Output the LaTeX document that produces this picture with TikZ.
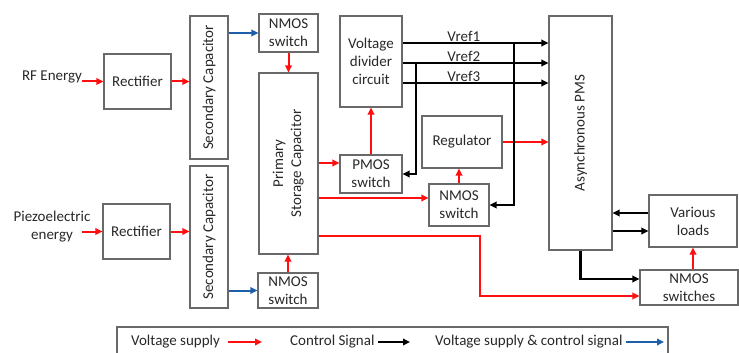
\documentclass[tikz,border=0pt]{standalone}
\usepackage{fontspec}
\setmainfont{Carlito}
\usepackage{tikz}
\usetikzlibrary{arrows.meta,positioning,calc}
\definecolor{supred}{RGB}{255,15,15}
\definecolor{bothblue}{RGB}{30,95,170}
\definecolor{boxgray}{RGB}{105,105,105}
\definecolor{txtgray}{RGB}{40,40,40}

\begin{document}
\begin{tikzpicture}[x=1pt, y=-1pt,
  blk/.style={draw=boxgray, line width=1.1pt, fill=white, align=center, inner sep=0pt, font=\fontsize{15}{18}\selectfont, text=txtgray},
  lbl/.style={inner sep=0pt, align=center, font=\fontsize{15}{18}\selectfont, text=txtgray},
  vsup/.style={-{Triangle[length=7pt,width=6.5pt]}, line width=2pt, draw=supred},
  ctl/.style={-{Triangle[length=7pt,width=6.5pt]}, line width=2.2pt, draw=black},
  both/.style={-{Triangle[length=7pt,width=6.5pt]}, line width=2pt, draw=bothblue}
]
\useasboundingbox (0,0) rectangle (739,353);
% sources
\node[lbl] (rf) at (52,77) {RF Energy};
\node[lbl] (piezo) at (52,227) {Piezoelectric\\energy};
\node[blk, minimum width=67, minimum height=55] (rect1) at (137.5,81.5) {Rectifier};
\node[blk, minimum width=67, minimum height=55] (rect2) at (136.5,231.5) {Rectifier};
\node[blk, minimum width=38, minimum height=143] (sc1) at (209,87.5) {\rotatebox{90}{Secondary Capacitor}};
\node[blk, minimum width=38, minimum height=142] (sc2) at (209,237) {\rotatebox{90}{Secondary Capacitor}};
% storage and switches
\node[blk, minimum width=59, minimum height=38] (nm1) at (288.5,33) {NMOS\\switch};
\node[blk, minimum width=59, minimum height=181] (psc) at (288.5,163.5) {\rotatebox{90}{\begin{tabular}{@{}c@{}}Primary\\Storage Capacitor\end{tabular}}};
\node[blk, minimum width=60, minimum height=35] (nm3) at (288,290.5) {NMOS\\switch};
\node[blk, minimum width=62, minimum height=91] (vdc) at (371,61.5) {Voltage\\divider\\circuit};
\node[blk, minimum width=62, minimum height=38] (pm) at (371,174) {PMOS\\switch};
\node[blk, minimum width=80, minimum height=52] (reg) at (462,142) {Regulator};
\node[blk, minimum width=60, minimum height=42] (nm2) at (459,205) {NMOS\\switch};
\node[blk, minimum width=63, minimum height=234] (pms) at (580.5,133) {\rotatebox{90}{Asynchronous PMS}};
\node[blk, minimum width=88, minimum height=52] (vl) at (693,221) {Various\\loads};
\node[blk, minimum width=98, minimum height=35] (nms) at (689,287.5) {NMOS\\switches};

% helper points
\coordinate (v1) at ([yshift=18.5pt]vdc.east);
\coordinate (v2) at ([yshift=-1.5pt]vdc.east);
\coordinate (v3) at ([yshift=-21.5pt]vdc.east);
\coordinate (t1) at (514,0);
\coordinate (t2) at (416,0);
\coordinate (pmin) at ([yshift=11pt]pm.west);
\coordinate (nm2in) at ([yshift=7pt]nm2.west);
\coordinate (tap) at ([yshift=-72.5pt]psc.east);
\coordinate (nmsin) at ([yshift=-8.5pt]nms.west);
\coordinate (jog) at (480,0);
\coordinate (nmsc) at ([yshift=8.5pt]nms.west);
\coordinate (vlout) at ([yshift=8pt]vl.west);
\coordinate (vlin) at ([yshift=-10pt]vl.west);

% connectors
\draw[vsup] (rf.east |- rect1.west) -- (rect1.west);
\draw[vsup] ([xshift=-20pt]rect2.west) -- (rect2.west);
\draw[vsup] (rect1.east) -- (rect1.east -| sc1.west);
\draw[vsup] (rect2.east) -- (rect2.east -| sc2.west);
\draw[both] (sc1.east |- nm1.west) -- (nm1.west);
\draw[both] (sc2.east |- nm3.west) -- (nm3.west);
\draw[vsup] (nm1.south) -- (psc.north);
\draw[vsup] (nm3.north) -- (nm3.north |- psc.south);
\draw[vsup] (psc.east |- pmin) -- (pmin);
\draw[vsup] (pm.north) -- (vdc.south);
\draw[vsup] (psc.east |- nm2in) -- (nm2in);
\draw[vsup] (tap) -- (tap -| jog) |- (nmsin);
\draw[vsup] (nm2.north) -- (nm2.north |- reg.south);
\draw[vsup] (reg.east) -- (reg.east -| pms.west);
\draw[vsup] (vl.south |- nms.north) -- (vl.south);
\draw[ctl] (v1) -- (v1 -| pms.west) node[pos=0.42, above, inner sep=3pt, lbl] {Vref1};
\draw[ctl] (v2) -- (v2 -| pms.west) node[pos=0.42, above, inner sep=3pt, lbl] {Vref2};
\draw[ctl] (v3) -- (v3 -| pms.west) node[pos=0.42, above, inner sep=3pt, lbl] {Vref3};
\draw[ctl] (v2 -| t2) |- (pm.east);
\draw[ctl] (v1 -| t1) |- (nm2.east);
\draw[ctl] (vlout) -- (vlout -| pms.east);
\draw[ctl] (vlin -| pms.east) -- (vlin);
\draw[ctl] (pms.south) |- (nmsc);

% legend
\draw[boxgray, line width=1.1pt] (117,353) |- (668,327) -- (668,353);
\node[lbl, anchor=west] (lg1) at (131,342) {Voltage supply};
\node[lbl, anchor=west] (lg2) at (290,342) {Control Signal};
\node[lbl, anchor=west] (lg3) at (435,342) {Voltage supply \& control signal};
\coordinate (lg1e) at (262,342);
\coordinate (lg2e) at (410,342);
\coordinate (lg3e) at (664,342);
\draw[vsup] ([xshift=8pt]lg1.east) -- (lg1e);
\draw[ctl] ([xshift=3pt]lg2.east) -- (lg2e);
\draw[both] ([xshift=3pt]lg3.east) -- (lg3e);
\end{tikzpicture}
\end{document}
